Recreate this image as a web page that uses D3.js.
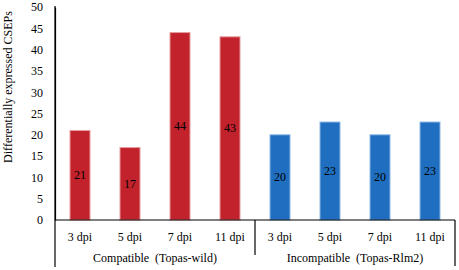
<!DOCTYPE html>
<html><head><meta charset="utf-8">
<script src="https://cdn.jsdelivr.net/npm/d3@7"></script>
<style>body{margin:0;background:#fff}</style>
</head><body><svg id="c" width="459" height="270"></svg>
<script>
const categories = ["3 dpi","5 dpi","7 dpi","11 dpi","3 dpi","5 dpi","7 dpi","11 dpi"];
const groups = ["Compatible  (Topas-wild)","Incompatible  (Topas-Rlm2)"];
const groupOf = [0,0,0,0,1,1,1,1];
const values = [21,17,44,43,20,23,20,23];
const yTicks = [0,5,10,15,20,25,30,35,40,45,50];
const groupColors = ["#C1222B","#1F6EBF"];
const groupStrokes = ["#E79A9E","#8DB8E4"];

const FONT = "'Liberation Serif', 'Times New Roman', Times, serif";
const svg = d3.select("#c");
const x0 = 55, x1 = 455, yTop = 7, yBot = 220;
const x = d3.scaleBand().domain(d3.range(categories.length)).range([x0,x1]).paddingInner(0.6).paddingOuter(0.3);
const y = d3.scaleLinear().domain([0,50]).range([yBot,yTop]);

// y axis
const ya = svg.append("g").attr("transform",`translate(${x0},0)`).attr("font-family",null)
  .call(d3.axisLeft(y).tickValues(yTicks).tickSize(0).tickPadding(12));
ya.attr("font-family",null);
ya.select(".domain").attr("stroke","#000").attr("stroke-width",1.2);
ya.selectAll("text").style("font-family",FONT).style("font-size","12px").attr("fill","#000");

// bars
svg.selectAll("rect.bar").data(values).join("rect").attr("class","bar")
  .attr("x",(d,i)=>x(i)).attr("width",x.bandwidth())
  .attr("y",d=>y(d)).attr("height",d=>yBot-y(d))
  .attr("fill",(d,i)=>groupColors[groupOf[i]])
  .attr("stroke",(d,i)=>groupStrokes[groupOf[i]]).attr("stroke-width",1);

// value labels
svg.selectAll("text.val").data(values).join("text").attr("class","val")
  .attr("x",(d,i)=>x(i)+x.bandwidth()/2).attr("y",d=>(y(d)+yBot)/2+4)
  .attr("text-anchor","middle").style("font-family",FONT).style("font-size","12px").attr("fill","#000").text(d=>d);

// x axis baseline
svg.append("line").attr("x1",x0).attr("x2",x1).attr("y1",yBot).attr("y2",yBot).attr("stroke","#000").attr("stroke-width",1.2);

// category labels
svg.selectAll("text.cat").data(categories).join("text").attr("class","cat")
  .attr("x",(d,i)=>x(i)+x.bandwidth()/2).attr("y",241)
  .attr("text-anchor","middle").style("font-family",FONT).style("font-size","12px").attr("fill","#000").text(d=>d);

// group separators
const gx = d3.scaleLinear().domain([0,categories.length]).range([x0,x1]);
svg.append("line").attr("x1",gx(0)).attr("x2",gx(0)).attr("y1",yTop-1).attr("y2",267).attr("stroke","#000").attr("stroke-width",1.2);
svg.append("line").attr("x1",gx(4)).attr("x2",gx(4)).attr("y1",yBot).attr("y2",255).attr("stroke","#000").attr("stroke-width",1.2);
svg.append("line").attr("x1",gx(8)).attr("x2",gx(8)).attr("y1",yBot).attr("y2",266).attr("stroke","#000").attr("stroke-width",1.2);

// group labels
svg.selectAll("text.grp").data(groups).join("text").attr("class","grp")
  .attr("x",(d,i)=>(gx(i*4)+gx(i*4+4))/2).attr("y",262)
  .attr("text-anchor","middle").style("font-family",FONT).style("font-size","12px").attr("fill","#000")
  .style("white-space","pre").text(d=>d);

// y title
svg.append("text").attr("transform","translate(12,87) rotate(-90)")
  .attr("text-anchor","middle").style("font-family",FONT).style("font-size","12px").attr("fill","#000")
  .text("Differentially expressed CSEPs");
</script></body></html>
